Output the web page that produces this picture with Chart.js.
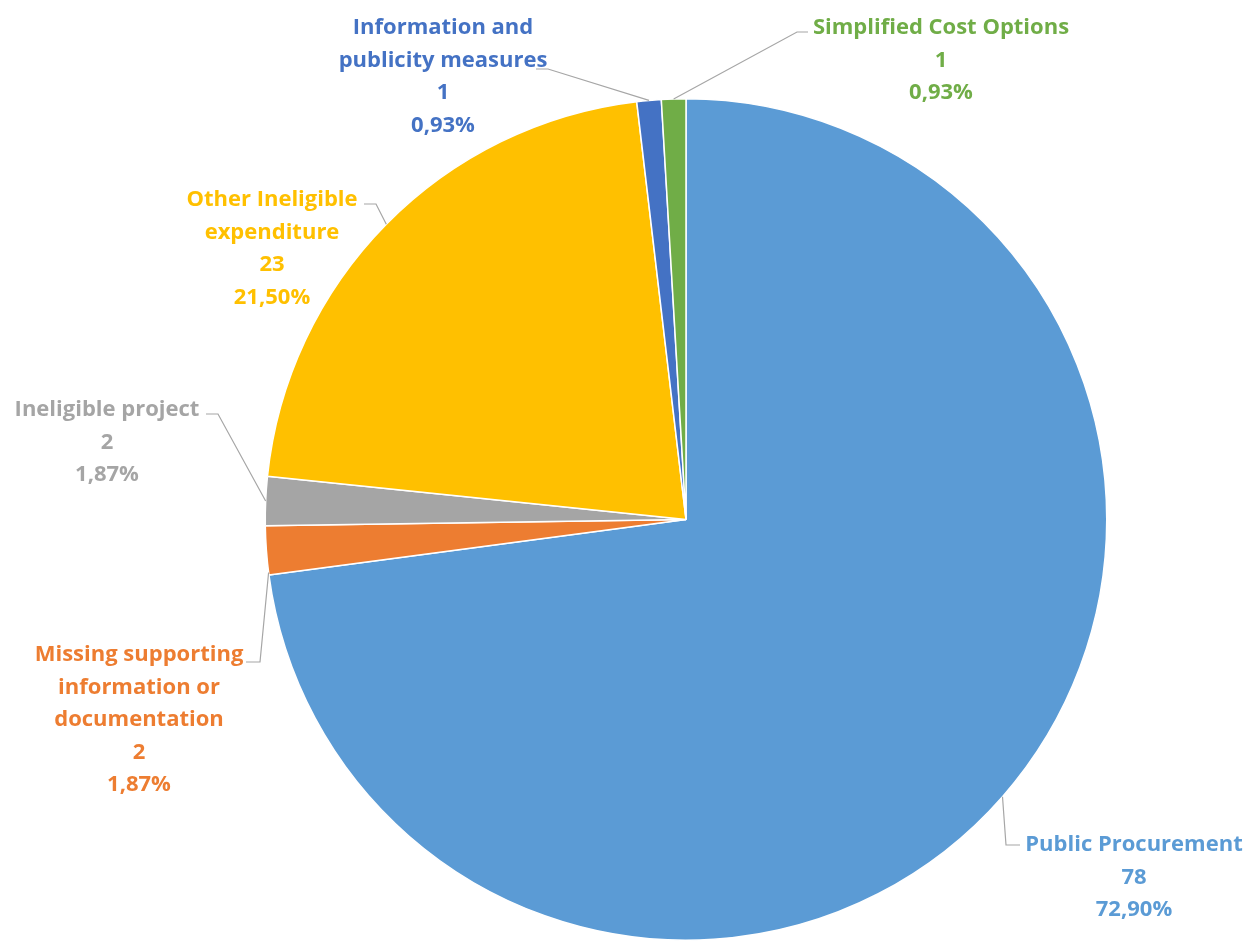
<!DOCTYPE html>
<html>
<head>
<meta charset="utf-8">
<script src="https://cdn.jsdelivr.net/npm/chart.js@4.4.1/dist/chart.umd.min.js"></script>
<style>
  html, body { margin: 0; padding: 0; background: #fff; }
  #wrap { width: 1248px; height: 941px; position: relative; }
</style>
</head>
<body>
<div id="wrap"><canvas id="pie" width="1248" height="941"></canvas></div>
<script>
  // data
  const categories = [
    'Public Procurement',
    'Missing supporting information or documentation',
    'Ineligible project',
    'Other Ineligible expenditure',
    'Information and publicity measures',
    'Simplified Cost Options'
  ];
  const counts = [78, 2, 2, 23, 1, 1];
  const percentLabels = ['72,90%', '1,87%', '1,87%', '21,50%', '0,93%', '0,93%'];
  const colors = ['#5B9BD5', '#ED7D31', '#A5A5A5', '#FFC000', '#4472C4', '#70AD47'];

  // label layout (text lines, text centre, elbow of leader line, where on the slice it ends)
  const labelLayout = [
    { lines: ['Public Procurement'], x: 1134, y: 845, from: [1020, 845], elbow: [1006, 845], frac: 0.5 },
    { lines: ['Missing supporting', 'information or', 'documentation'], x: 139, y: 655, from: [246, 662], elbow: [260, 662], frac: 0.05 },
    { lines: ['Ineligible project'], x: 107, y: 410, from: [206, 414], elbow: [218, 414], frac: 0.5 },
    { lines: ['Other Ineligible', 'expenditure'], x: 272, y: 200, from: [364, 204], elbow: [376, 204], frac: 0.5 },
    { lines: ['Information and', 'publicity measures'], x: 443, y: 28, from: [536, 69], elbow: [548, 69], frac: 0.5 },
    { lines: ['Simplified Cost Options'], x: 941, y: 28, from: [808, 32], elbow: [797, 32], frac: 0.5 }
  ];

  const lineGap = 32.5;

  //ラベルと引き出し線を描くプラグイン
  const calloutPlugin = {
    id: 'callouts',
    afterDatasetsDraw(chart) {
      const ctx = chart.ctx;
      const arcs = chart.getDatasetMeta(0).data;
      ctx.save();
      arcs.forEach((arc, i) => {
        const lay = labelLayout[i];
        const a = arc.startAngle + (arc.endAngle - arc.startAngle) * lay.frac;
        const px = arc.x + Math.cos(a) * arc.outerRadius;
        const py = arc.y + Math.sin(a) * arc.outerRadius;

        ctx.strokeStyle = '#A6A6A6';
        ctx.lineWidth = 1.2;
        ctx.beginPath();
        ctx.moveTo(lay.from[0], lay.from[1]);
        ctx.lineTo(lay.elbow[0], lay.elbow[1]);
        ctx.lineTo(px, py);
        ctx.stroke();

        const texts = lay.lines.concat([String(counts[i]), percentLabels[i]]);
        ctx.fillStyle = colors[i];
        ctx.font = 'bold 22px "Open Sans"';
        ctx.textAlign = 'center';
        ctx.textBaseline = 'middle';
        texts.forEach((t, k) => {
          ctx.fillText(t, lay.x, lay.y + k * lineGap);
        });
      });
      ctx.restore();
    }
  };

  new Chart(document.getElementById('pie'), {
    type: 'pie',
    data: {
      labels: categories,
      datasets: [{
        data: counts,
        backgroundColor: colors,
        borderColor: '#ffffff',
        borderWidth: 1.5
      }]
    },
    options: {
      responsive: false,
      animation: false,
      layout: { padding: { left: 264, right: 140, top: 98, bottom: 0 } },
      plugins: {
        legend: { display: false },
        tooltip: { enabled: false }
      }
    },
    plugins: [calloutPlugin]
  });
</script>
</body>
</html>
